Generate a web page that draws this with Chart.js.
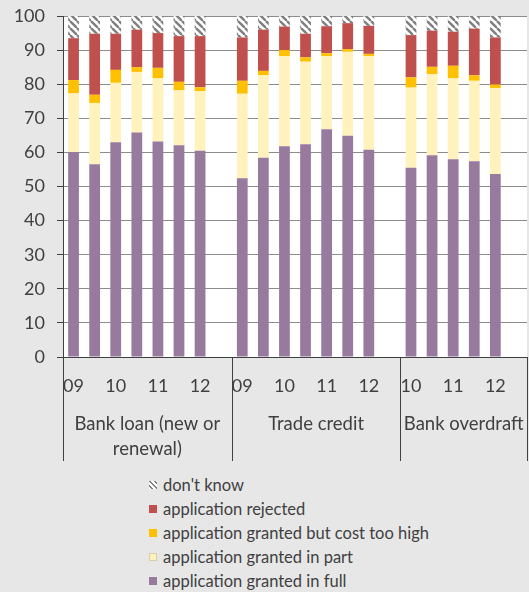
<!DOCTYPE html>
<html>
<head>
<meta charset="utf-8">
<script src="https://cdn.jsdelivr.net/npm/chart.js@4.4.1/dist/chart.umd.min.js"></script>
<style>
  html, body { margin: 0; padding: 0; background: #e7e7e7; }
  #wrap { position: relative; width: 529px; height: 592px; overflow: hidden; background: #e7e7e7; }
  #c { position: absolute; left: 0; top: 0; }
  #legend { position: absolute; left: 149px; top: 473px; font-family: Lato, "Open Sans", sans-serif; font-size: 16.5px; color: #404040; }
  .item { height: 24px; line-height: 24px; display: flex; align-items: center; white-space: nowrap; }
  .sw { width: 8px; height: 8px; margin-right: 6px; flex: none; }
</style>
</head>
<body>
<div id="wrap">
  <canvas id="c" width="529" height="470"></canvas>
  <div id="legend"></div>
</div>
<script>
// ---- data ----
const periodLabels = ['09','','10','','11','','12','',
                      '09','','10','','11','','12','',
                      '10','','11','','12',''];
const groupNames = [['Bank loan (new or','renewal)'], ['Trade credit'], ['Bank overdraft']];
const groupStart = [0, 8, 16];
const groupEnd   = [8, 16, 22];

const grantedFull = [60.1,56.5,63.0,65.8,63.2,62.1,60.5,null, 52.4,58.4,61.8,62.4,66.8,64.9,60.8,null, 55.5,59.2,58.0,57.4,53.7,null];
const grantedPart = [17.2,18.0,17.4,17.8,18.5,16.1,17.5,null, 24.8,24.2,26.4,24.2,21.4,24.6,27.4,null, 23.5,23.8,23.7,23.6,25.2,null];
const costTooHigh = [ 3.9, 2.4, 3.8, 1.4, 3.1, 2.5, 1.1,null,  3.8, 1.3, 1.8, 1.3, 0.9, 0.8, 0.7,null,  3.0, 2.1, 3.7, 1.6, 1.0,null];
const rejected    = [12.3,17.9,10.6,11.0,10.2,13.4,15.0,null, 12.7,12.1, 6.9, 6.9, 7.9, 7.6, 8.2,null, 12.4,10.6,10.0,13.7,13.8,null];
const dontKnow    = [ 6.5, 5.2, 5.2, 4.0, 5.0, 5.9, 5.9,null,  6.3, 4.0, 3.1, 5.2, 3.0, 2.1, 2.9,null,  5.6, 4.3, 4.6, 3.7, 6.3,null];

const seriesNames = ["application granted in full", "application granted in part", "application granted but cost too high", "application rejected", "don't know"];
const yTicks = { min: 0, max: 100, step: 10 };

// ---- styles ----
const colors = ['#997a9f', '#fff2bd', '#ffc000', '#c0504d'];
function hatch() {
  const t = document.createElement('canvas');
  t.width = 7; t.height = 7;
  const g = t.getContext('2d');
  g.fillStyle = '#ffffff'; g.fillRect(0, 0, 7, 7);
  g.strokeStyle = '#7f7f7f'; g.lineWidth = 2.4;
  for (const k of [-7, 0, 7]) { g.beginPath(); g.moveTo(k, 0); g.lineTo(k + 7, 7); g.stroke(); }
  return g.createPattern(t, 'repeat');
}
const hatchPattern = hatch();
const FONT = 'Lato, "Open Sans", sans-serif';
const TEXT = '#404040';

const seriesData = [grantedFull, grantedPart, costTooHigh, rejected, dontKnow];
const datasets = seriesData.map((d, i) => ({
  label: seriesNames[i],
  data: d,
  backgroundColor: i < 4 ? colors[i] : hatchPattern,
  borderWidth: 0,
  barPercentage: 0.51,
  categoryPercentage: 1.0
}));

const plugin = {
  id: 'decor',
  beforeDraw(chart) {
    const a = chart.chartArea, ctx = chart.ctx;
    ctx.save(); ctx.fillStyle = '#ffffff';
    ctx.fillRect(a.left, a.top, a.right - a.left, a.bottom - a.top);
    ctx.restore();
  },
  afterDraw(chart) {
    const a = chart.chartArea, ctx = chart.ctx, x = chart.scales.x;
    const bottom = 461;
    const bound = (i) => {
      if (i <= 0) return a.left;
      if (i >= periodLabels.length) return a.right;
      return (x.getPixelForValue(i - 1) + x.getPixelForValue(i)) / 2;
    };
    ctx.save();
    ctx.strokeStyle = TEXT; ctx.lineWidth = 1;
    const seps = [0, ...groupEnd];
    seps.forEach(i => {
      const px = Math.round(bound(i)) + 0.5;
      ctx.beginPath(); ctx.moveTo(px, a.bottom); ctx.lineTo(px, bottom); ctx.stroke();
    });
    ctx.fillStyle = TEXT;
    ctx.font = '18.5px ' + FONT;
    ctx.textAlign = 'center'; ctx.textBaseline = 'middle';
    groupNames.forEach((lines, g) => {
      const cx = (bound(groupStart[g]) + bound(groupEnd[g])) / 2;
      lines.forEach((ln, j) => ctx.fillText(ln, cx, 424 + j * 25.5));
    });
    ctx.restore();
  }
};

new Chart(document.getElementById('c'), {
  type: 'bar',
  data: { labels: periodLabels, datasets },
  options: {
    responsive: false, animation: false, devicePixelRatio: 1,
    layout: { padding: { top: 16, right: 2, left: 0, bottom: 0 } },
    plugins: { legend: { display: false }, tooltip: { enabled: false } },
    scales: {
      x: {
        stacked: true,
        grid: { display: false, drawTicks: false },
        border: { display: true, color: TEXT, width: 1 },
        ticks: { autoSkip: false, maxRotation: 0, minRotation: 0, padding: 18, color: TEXT, font: { family: FONT, size: 18 } },
        afterFit: s => { s.height = 113; s.paddingLeft = 0; s.paddingRight = 0; }
      },
      y: {
        stacked: true, min: yTicks.min, max: yTicks.max,
        grid: { color: '#8c8c8c', tickColor: TEXT, tickLength: 6, drawTicks: true },
        border: { display: true, color: TEXT, width: 1 },
        ticks: { stepSize: yTicks.step, padding: 12, color: TEXT, font: { family: FONT, size: 18 } },
        afterFit: s => { s.width = 63; s.paddingTop = 0; s.paddingBottom = 0; }
      }
    }
  },
  plugins: [plugin]
});

// ---- legend (top entry first, as in the reference) ----
const leg = document.getElementById('legend');
for (let i = datasets.length - 1; i >= 0; i--) {
  const it = document.createElement('div'); it.className = 'item';
  const sw = document.createElement('span'); sw.className = 'sw';
  if (i === 4) {
    sw.style.background = 'repeating-linear-gradient(45deg, #ffffff 0 2px, #7f7f7f 2px 3.5px)';
  } else {
    sw.style.background = colors[i];
    if (i === 1) sw.style.boxShadow = 'inset 0 0 0 1px #d9cfa6';
  }
  const tx = document.createElement('span'); tx.textContent = seriesNames[i];
  it.appendChild(sw); it.appendChild(tx); leg.appendChild(it);
}
</script>
</body>
</html>
